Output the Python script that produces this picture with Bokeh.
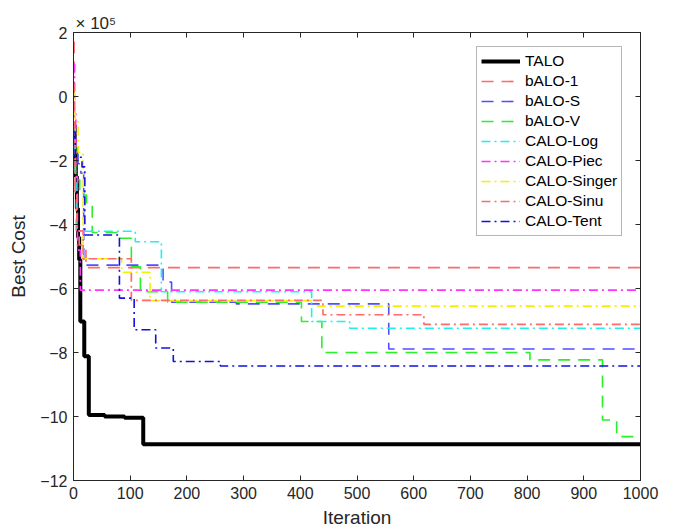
from bokeh.plotting import figure
from bokeh.models import Range1d, LinearAxis, Title, FixedTicker
from bokeh.embed import file_html
from bokeh.resources import INLINE

# Best cost per iteration (in units of 1e5); each list gives the iterations
# where the best cost improves and the value reached there.
talo_it = [0, 2, 4, 6, 8, 10, 12, 19, 27, 55, 90, 123]
talo_cost = [-0.9, -1.6, -2.5, -3.5, -4.4, -5.1, -7.03, -8.12, -9.95, -10.0, -10.04, -10.87]

balo1_it = [0, 1, 3, 5, 10, 22]
balo1_cost = [1.7, -1.0, -3.0, -4.2, -4.64, -5.35]

balos_it = [0, 3, 8, 13, 18, 158, 173, 287, 556]
balos_cost = [-1.3, -1.8, -2.1, -2.4, -5.27, -5.8, -6.43, -6.48, -7.89]

balov_it = [0, 4, 11, 23, 33, 80, 102, 118, 166, 402, 438, 805, 933, 958]
balov_cost = [-1.5, -2.6, -3.08, -3.37, -4.25, -4.43, -5.32, -6.1, -6.43, -7.03, -8.0, -8.23, -10.11, -10.63]

log_it = [0, 3, 6, 109, 155, 420, 487]
log_cost = [-1.0, -2.5, -4.21, -4.54, -6.1, -7.03, -7.24]

piec_it = [0, 2, 4, 7, 12]
piec_cost = [1.0, -0.5, -2.5, -4.8, -6.05]

singer_it = [0, 3, 8, 17, 85, 135, 430]
singer_cost = [0.1, -0.7, -1.75, -5.07, -5.49, -6.38, -6.55]

sinu_it = [0, 1, 3, 6, 17, 102, 440, 618]
sinu_cost = [0.4, -1.2, -3.0, -4.2, -5.07, -6.37, -6.82, -7.12]

tent_it = [0, 3, 15, 20, 81, 107, 145, 176, 259]
tent_cost = [-1.1, -1.9, -2.2, -4.33, -6.3, -7.29, -7.86, -8.28, -8.42]

max_iter = 1000
x_ticks = [0, 100, 200, 300, 400, 500, 600, 700, 800, 900, 1000]
y_ticks = [-12, -10, -8, -6, -4, -2, 0, 2]

FONT = "Liberation Sans"
INK = "#262626"

p = figure(width=676, height=530, output_backend="svg", toolbar_location=None,
           x_range=Range1d(0, max_iter), y_range=Range1d(-12, 2),
           min_border_left=73, min_border_right=36, min_border_top=32,
           min_border_bottom=49)
p.grid.visible = False
p.outline_line_color = INK
p.background_fill_color = "white"
p.border_fill_color = "white"

series = [
    ("TALO", talo_it, talo_cost, "black", "solid", 4.0),
    ("bALO-1", balo1_it, balo1_cost, "#ff6a6a", "12 8", 1.7),
    ("bALO-S", balos_it, balos_cost, "#4f4fff", "12 8", 1.6),
    ("bALO-V", balov_it, balov_cost, "#2af02a", "12 8", 1.6),
    ("CALO-Log", log_it, log_cost, "#1ef0f0", "9 4 2 4", 1.6),
    ("CALO-Piec", piec_it, piec_cost, "#ff33ff", "9 4 2 4", 1.6),
    ("CALO-Singer", singer_it, singer_cost, "#f2f200", "9 4 2 4", 1.6),
    ("CALO-Sinu", sinu_it, sinu_cost, "#ff6a6a", "9 4 2 4", 1.7),
    ("CALO-Tent", tent_it, tent_cost, "#1010e0", "9 4 2 4", 1.6),
]

for name, it, cost, color, dash, width in series:
    xs = list(it) + [max_iter]
    ys = list(cost) + [cost[-1]]
    p.step(xs, ys, mode="after", line_color=color, line_dash=dash,
           line_width=width, legend_label=name)

for ax in (p.xaxis[0], p.yaxis[0]):
    ax.axis_line_color = INK
    ax.major_tick_line_color = INK
    ax.major_tick_in = 5
    ax.major_tick_out = 0
    ax.minor_tick_line_color = None
    ax.major_label_text_font = FONT
    ax.major_label_text_font_size = "16px"
    ax.major_label_text_color = INK
    ax.axis_label_text_font = FONT
    ax.axis_label_text_font_size = "19px"
    ax.axis_label_text_font_style = "normal"
    ax.axis_label_text_color = INK

p.xaxis.ticker = FixedTicker(ticks=x_ticks)
p.yaxis.ticker = FixedTicker(ticks=y_ticks)
p.xaxis.axis_label = "Iteration"
p.yaxis.axis_label = "Best Cost"
p.xaxis.major_label_standoff = 6
p.yaxis.major_label_standoff = 6
p.xaxis.axis_label_standoff = 5
p.yaxis.axis_label_standoff = 8

# box ticks on the top and right edges (no labels)
top = LinearAxis(ticker=FixedTicker(ticks=x_ticks),
                 major_label_overrides={t: "" for t in x_ticks},
                 axis_line_color=INK, major_tick_line_color=INK, major_tick_in=5,
                 major_tick_out=0, minor_tick_line_color=None, major_label_standoff=0)
right = LinearAxis(ticker=FixedTicker(ticks=y_ticks),
                   major_label_overrides={t: "" for t in y_ticks},
                   axis_line_color=INK, major_tick_line_color=INK, major_tick_in=5,
                   major_tick_out=0, minor_tick_line_color=None, major_label_standoff=0)
p.add_layout(top, "above")
p.add_layout(right, "right")

# exponent marker of the y axis, above the top-left corner
p.add_layout(Title(text="\u00d7 10\u2075", align="left", offset=2, standoff=0,
                   text_font=FONT, text_font_size="17px", text_font_style="normal",
                   text_color=INK), "above")

leg = p.legend[0]
leg.location = (403, 244)
leg.background_fill_color = "white"
leg.background_fill_alpha = 1.0
leg.border_line_color = "#6e6e6e"
leg.border_line_width = 1
leg.label_text_font = FONT
leg.label_text_font_size = "15.5px"
leg.label_text_color = "black"
leg.glyph_width = 39
leg.glyph_height = 20
leg.label_height = 20
leg.label_standoff = 5
leg.spacing = 0
leg.padding = 4
leg.margin = 0

open("out.html", "w").write(file_html(p, INLINE))
